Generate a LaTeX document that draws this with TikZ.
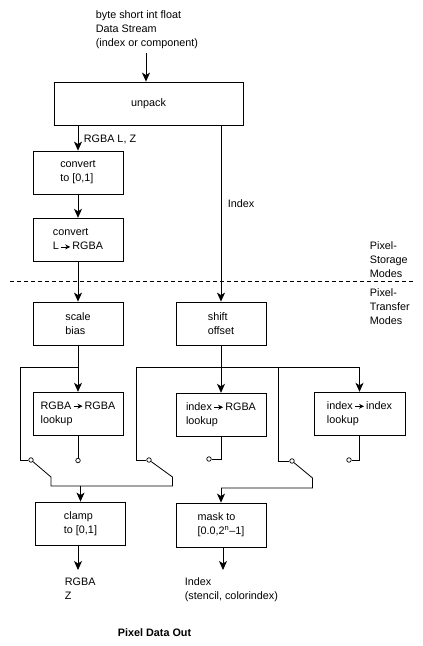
\documentclass[tikz,border=0pt]{standalone}
\usepackage{fontspec}
\setmainfont{Liberation Sans}
\usetikzlibrary{arrows.meta}
\newcommand\figfont{\fontsize{10.8}{14}\selectfont}
\newcommand\txtarrow{\,\tikz[baseline=-3pt]\draw[line width=0.8pt,-{Stealth[length=5pt,width=5pt]}] (0pt,0pt) -- (9pt,0pt);\,}
\begin{document}
\begin{tikzpicture}[x=1pt,y=-1pt,line width=0.8pt,
  box/.style={draw,rectangle,minimum width=90pt,minimum height=43pt,align=left,inner sep=0pt,font=\figfont},
  lbl/.style={anchor=north west,inner sep=0pt,align=left,font=\figfont},
  arr/.style={-{Stealth[length=9pt,width=8pt,inset=2.5pt]}},
  sw/.style={circle,draw,fill=white,minimum size=4.5pt,inner sep=0pt,line width=0.7pt},
  dashline/.style={dash pattern=on 4pt off 3pt}]
\useasboundingbox (0,0) rectangle (423,646);

% boxes
\node[box,minimum width=189pt] (unpack) at (148.5,103.5) {unpack};
\node[box] (conv1) at (78,172.5) {convert\\to [0,1]};
\node[box] (conv2) at (78,239.5) {convert\\L\txtarrow RGBA};
\node[box] (scale) at (78,323.5) {scale\\bias};
\node[box] (shift) at (221,323.5) {shift\\offset};
\node[box] (lut1) at (78,413.5) {RGBA\txtarrow RGBA\\lookup};
\node[box] (lut2) at (221,414.5) {index\txtarrow RGBA\\lookup};
\node[box,minimum width=91pt] (lut3) at (359.5,413.5) {index\txtarrow index\\lookup};
\node[box] (clamp) at (80.5,523.5) {clamp\\to [0,1]};
\node[box,minimum height=44pt] (mask) at (221,525) {mask to\\{}[0.0,2\textsuperscript{n}--1]};

% labels
\node[lbl] (src) at (95.5,10) {byte short int float\\Data Stream\\(index or component)};
\node[lbl] (lrgba) at (83.5,135) {RGBA L, Z};
\node[lbl] (lindex) at (227.5,199) {Index};
\node[lbl] (lstore) at (369.5,241.5) {Pixel-\\Storage\\Modes};
\node[lbl] (ltrans) at (369.5,288.5) {Pixel-\\Transfer\\Modes};
\node[lbl] (lout1) at (64.5,577.5) {RGBA\\Z};
\node[lbl] (lout2) at (184.5,577) {Index\\(stencil, colorindex)};
\node[lbl,font=\fontsize{10.8}{14}\selectfont\bfseries] (ltitle) at (117.5,628) {Pixel Data Out};

% dashed separator
\coordinate (dl) at (10,281);
\coordinate (dr) at (413,281);
\draw[dashline] (dl) -- (dr);

% top part
\coordinate (in) at (146,53);
\draw[arr] (in) -- (in |- unpack.north);
\draw[arr] (unpack.south -| conv1) -- (conv1.north);
\draw[arr] (conv1) -- (conv2);
\draw[arr] (conv2) -- (scale);
\draw[arr] (unpack.south -| shift) -- (shift.north);

% switch contacts
\node[sw] (s1a) at (31,460) {};
\node[sw] (s1b) at (78,460.5) {};
\node[sw] (s2a) at (149,460) {};
\node[sw] (s2b) at (209,459) {};
\node[sw] (s3a) at (292,461) {};
\node[sw] (s3b) at (349,460) {};

% RGBA path
\coordinate (j1) at (78,367);
\coordinate (b1) at (20,367);
\draw[arr] (scale.south) -- (lut1.north);
\draw (j1) -- (b1) -- (b1 |- s1a) -- (s1a);
\draw (lut1.south) -- (s1b);

% index bus
\coordinate (bl) at (136.5,367);
\coordinate (bm) at (278,367);
\coordinate (br) at (359.5,367);
\draw[arr] (shift.south) -- (lut2.north);
\draw (bl) -- (br);
\draw[arr] (br) -- (lut3.north);
\draw (bl) -- (bl |- s2a) -- (s2a);
\draw (bm) -- (bm |- s3a) -- (s3a);
\draw (lut2.south) -- (lut2.south |- s2b) -- (s2b);
\draw (lut3.south) -- (lut3.south |- s3b) -- (s3b);

% levers to clamp
\coordinate (k1) at (51,477);
\coordinate (m1) at (51,486);
\coordinate (m2) at (172.5,486);
\coordinate (k2) at (172.5,477);
\coordinate (m0) at (80.5,486);
\draw (s1a) -- (k1) -- (m1) -- (m2) -- (k2) -- (s2a);
\draw[arr] (m0) -- (clamp.north);

% lever to mask
\coordinate (k3) at (312.5,478);
\coordinate (m3) at (312.5,488);
\coordinate (m4) at (221,488);
\draw (s3a) -- (k3) -- (m3) -- (m4);
\draw[arr] (m4) -- (mask.north);

% outputs
\coordinate (o1) at (78,570);
\coordinate (o2) at (223,570);
\draw[arr] (clamp.south -| o1) -- (o1);
\draw[arr] (mask.south -| o2) -- (o2);
\end{tikzpicture}
\end{document}
